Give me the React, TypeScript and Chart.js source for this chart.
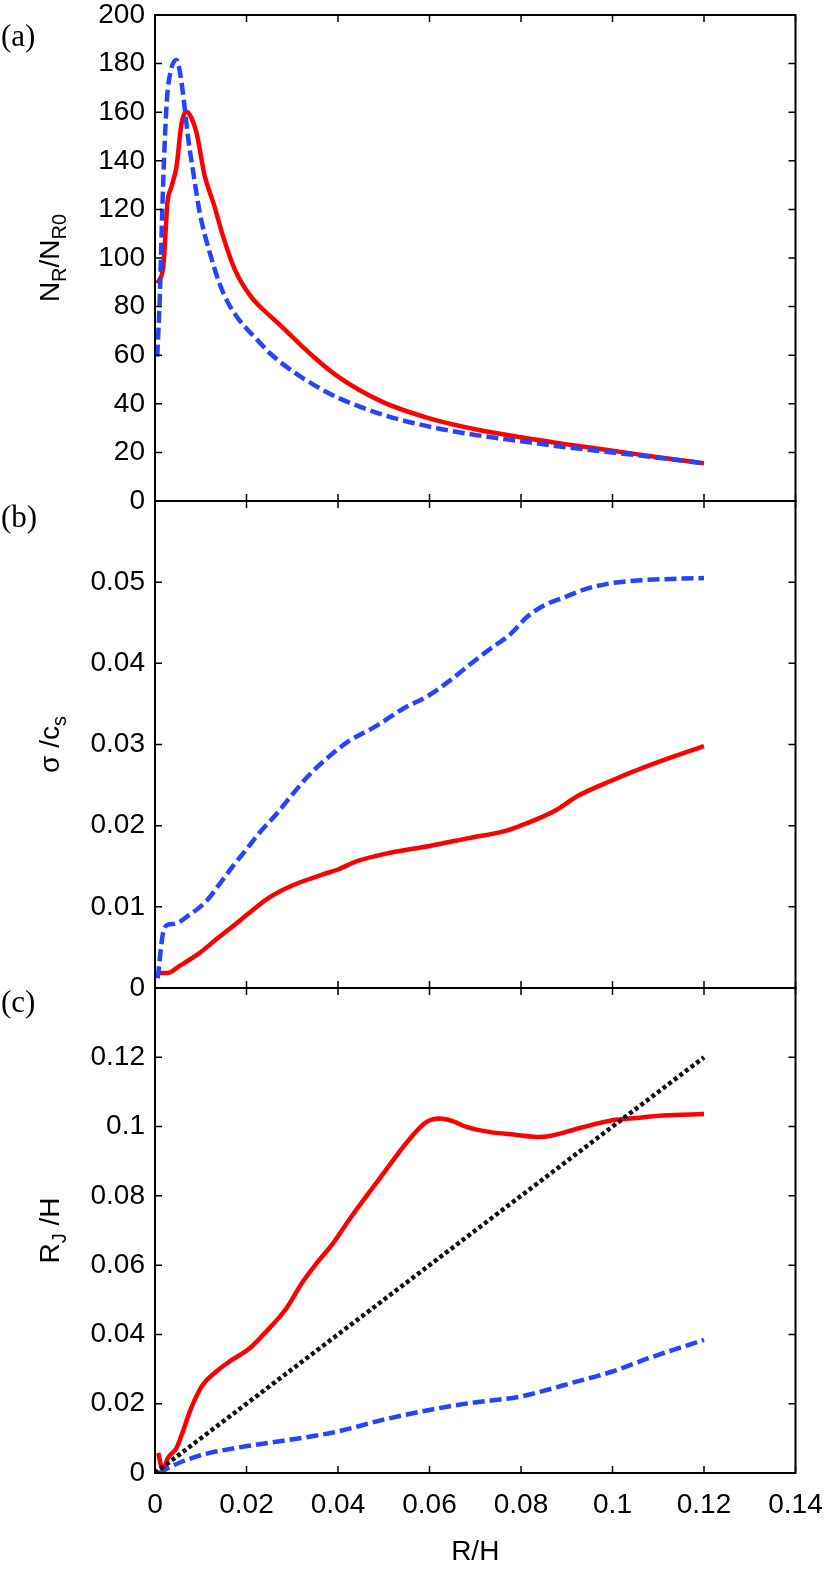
import { useEffect, useRef } from 'react'
import Chart from 'chart.js/auto'

const FIG_W = 829
const FIG_H = 1571
const PLOT_LEFT = 155
const PLOT_RIGHT = 795.5
const SANS = '"Liberation Sans", Arial, sans-serif'
const SERIF = '"Liberation Serif", "Times New Roman", serif'

const RED = '#ff0000'
const BLUE = '#2643ff'
const BLACK = '#111111'

// shared R/H axis
const xTickValues = [0, 0.02, 0.04, 0.06, 0.08, 0.1, 0.12, 0.14]

// (a) N_R / N_R0
const nrTicks = [0, 20, 40, 60, 80, 100, 120, 140, 160, 180, 200]
const nrSolidX = [0.0005, 0.0018, 0.0022, 0.0027, 0.0036, 0.0047, 0.0058, 0.0069, 0.008, 0.0091, 0.0109, 0.0128, 0.0149, 0.0175, 0.0208, 0.0235, 0.0267, 0.0317, 0.0345, 0.04, 0.0496, 0.06, 0.07, 0.08, 0.09, 0.1, 0.11, 0.12]
const nrSolidY = [89.6, 96.4, 107, 122.5, 129.3, 137.6, 155.4, 160.2, 157.5, 151.3, 133.5, 122.5, 108.8, 95, 84.5, 79, 73.5, 64.5, 59.6, 51.2, 40.9, 34, 29.5, 26.2, 23.3, 20.7, 18, 15.5]
const nrDashedX = [0.0005, 0.0011, 0.0015, 0.002, 0.0026, 0.0034, 0.0047, 0.0055, 0.0062, 0.0073, 0.0084, 0.0098, 0.012, 0.0142, 0.016, 0.018, 0.02, 0.0225, 0.025, 0.03, 0.035, 0.04, 0.05, 0.06, 0.07, 0.08, 0.09, 0.1, 0.11, 0.12]
const nrDashedY = [59.4, 86.8, 114, 141.7, 165, 176.7, 181.5, 176, 166.4, 148.6, 134.8, 118.4, 102, 89, 81.5, 75.5, 71, 66, 61, 53.5, 47.5, 42.5, 35.4, 30.6, 27.2, 24.6, 22.1, 20, 17.8, 15.5]

// (b) sigma / c_s
const sigmaTicks = [0, 0.01, 0.02, 0.03, 0.04, 0.05, 0.06]
const sigmaSolidX = [0.0006, 0.0028, 0.0053, 0.0097, 0.0134, 0.017, 0.0207, 0.0243, 0.028, 0.0316, 0.0367, 0.04, 0.044, 0.05, 0.06, 0.0689, 0.0762, 0.0799, 0.0835, 0.0879, 0.0922, 0.1, 0.1089, 0.12]
const sigmaSolidY = [0.00185, 0.00185, 0.0027, 0.0043, 0.006, 0.0076, 0.0093, 0.0109, 0.0121, 0.013, 0.014, 0.0146, 0.0156, 0.0165, 0.0175, 0.0185, 0.0193, 0.02, 0.0208, 0.022, 0.0236, 0.0256, 0.0276, 0.0298]
const sigmaDashedX = [0.0006, 0.0017, 0.0028, 0.0042, 0.0075, 0.0112, 0.0141, 0.017, 0.02, 0.0228, 0.0265, 0.0301, 0.0338, 0.0382, 0.0426, 0.0484, 0.0542, 0.06, 0.0645, 0.0689, 0.0733, 0.0777, 0.0813, 0.0849, 0.0893, 0.0944, 0.1, 0.1053, 0.1126, 0.12]
const sigmaDashedY = [0.0012, 0.0066, 0.0078, 0.0079, 0.009, 0.0107, 0.0128, 0.015, 0.0171, 0.0191, 0.0214, 0.0239, 0.0263, 0.0286, 0.0305, 0.0323, 0.0344, 0.0361, 0.0379, 0.0399, 0.0418, 0.0436, 0.0457, 0.0471, 0.0481, 0.0492, 0.0499, 0.0502, 0.0504, 0.0505]

// (c) R_J / H
const rjTicks = [0, 0.02, 0.04, 0.06, 0.08, 0.1, 0.12, 0.14]
const rjSolidX = [0.0007, 0.0017, 0.0028, 0.0047, 0.0061, 0.0079, 0.0104, 0.0134, 0.0163, 0.0207, 0.0243, 0.0287, 0.0323, 0.0353, 0.0389, 0.0426, 0.0491, 0.0557, 0.0593, 0.0623, 0.0652, 0.0681, 0.0733, 0.0784, 0.0835, 0.0864, 0.0929, 0.1, 0.1053, 0.1111, 0.12]
const rjSolidY = [0.0058, 0.0009, 0.0043, 0.0072, 0.012, 0.0187, 0.0254, 0.0293, 0.0322, 0.036, 0.0408, 0.0475, 0.0552, 0.0605, 0.0663, 0.0734, 0.085, 0.0965, 0.1013, 0.1023, 0.1015, 0.0999, 0.0984, 0.0977, 0.097, 0.0973, 0.0996, 0.1018, 0.1025, 0.1032, 0.1036]
const rjDashedX = [0.0008, 0.0035, 0.0061, 0.0119, 0.0155, 0.0198, 0.028, 0.0353, 0.04, 0.05, 0.06, 0.0689, 0.08, 0.0849, 0.0908, 0.1, 0.1089, 0.12]
const rjDashedY = [0, 0.0018, 0.0034, 0.0058, 0.0067, 0.0077, 0.0093, 0.0108, 0.012, 0.0154, 0.0182, 0.0202, 0.0221, 0.0237, 0.0259, 0.0293, 0.0336, 0.0384]
const rjDottedX = [0, 0.12]
const rjDottedY = [0, 0.12]

interface Segment { text: string; sub?: boolean }
interface Series { x: number[]; y: number[]; color: string; dash: number[] }
interface PanelDef {
  tag: string
  tagY: number
  top: number
  bottom: number
  yMax: number
  yStep: number
  yTicks: number[]
  hideTopLabel: boolean
  showX: boolean
  title: Segment[]
  series: Series[]
}

const panels: PanelDef[] = [
  {
    tag: '(a)', tagY: 38, top: 15, bottom: 501, yMax: 200, yStep: 20, yTicks: nrTicks,
    hideTopLabel: false, showX: false,
    title: [{ text: 'N' }, { text: 'R', sub: true }, { text: '/N' }, { text: 'R0', sub: true }],
    series: [
      { x: nrDashedX, y: nrDashedY, color: BLUE, dash: [12, 5] },
      { x: nrSolidX, y: nrSolidY, color: RED, dash: [] },
    ],
  },
  {
    tag: '(b)', tagY: 519, top: 501, bottom: 988, yMax: 0.06, yStep: 0.01, yTicks: sigmaTicks,
    hideTopLabel: true, showX: false,
    title: [{ text: 'σ /c' }, { text: 's', sub: true }],
    series: [
      { x: sigmaDashedX, y: sigmaDashedY, color: BLUE, dash: [12, 5] },
      { x: sigmaSolidX, y: sigmaSolidY, color: RED, dash: [] },
    ],
  },
  {
    tag: '(c)', tagY: 1004, top: 988, bottom: 1473, yMax: 0.14, yStep: 0.02, yTicks: rjTicks,
    hideTopLabel: true, showX: true,
    title: [{ text: 'R' }, { text: 'J', sub: true }, { text: ' /H' }],
    series: [
      { x: rjDottedX, y: rjDottedY, color: BLACK, dash: [4, 3] },
      { x: rjDashedX, y: rjDashedY, color: BLUE, dash: [12, 5] },
      { x: rjSolidX, y: rjSolidY, color: RED, dash: [] },
    ],
  },
]

const fmt = (v: number) => String(parseFloat(Number(v).toFixed(4)))

function drawRotated(ctx: CanvasRenderingContext2D, segs: Segment[], cx: number, cy: number, size: number) {
  const subSize = Math.round(size * 0.7)
  const widths = segs.map(s => {
    ctx.font = `${s.sub ? subSize : size}px ${SANS}`
    return ctx.measureText(s.text).width
  })
  const total = widths.reduce((a, b) => a + b, 0)
  ctx.save()
  ctx.translate(cx, cy)
  ctx.rotate(-Math.PI / 2)
  ctx.textAlign = 'left'
  ctx.textBaseline = 'alphabetic'
  ctx.fillStyle = '#000'
  let x = -total / 2
  segs.forEach((s, i) => {
    ctx.font = `${s.sub ? subSize : size}px ${SANS}`
    ctx.fillText(s.text, x, s.sub ? size * 0.25 : 0)
    x += widths[i]
  })
  ctx.restore()
}

// frame, inward ticks on all four sides, y title and panel tag
const framePlugin = {
  id: 'frame',
  afterDraw(chart: any, _args: any, opts: any) {
    const { ctx, chartArea } = chart
    const { left, right, top, bottom } = chartArea
    const xs = chart.scales.x
    const ys = chart.scales.y
    ctx.save()
    ctx.strokeStyle = '#000'
    ctx.lineWidth = 1.5
    ctx.beginPath()
    for (const v of xTickValues) {
      const px = xs.getPixelForValue(v)
      ctx.moveTo(px, bottom)
      ctx.lineTo(px, bottom - 7)
      ctx.moveTo(px, top)
      ctx.lineTo(px, top + 7)
    }
    for (const v of opts.yTicks as number[]) {
      const py = ys.getPixelForValue(v)
      ctx.moveTo(left, py)
      ctx.lineTo(left + 7, py)
      ctx.moveTo(right, py)
      ctx.lineTo(right - 7, py)
    }
    ctx.stroke()
    ctx.lineWidth = 2
    ctx.strokeRect(left, top, right - left, bottom - top)

    drawRotated(ctx, opts.title, 59, (top + bottom) / 2, 28)

    ctx.font = `31px ${SERIF}`
    ctx.fillStyle = '#000'
    ctx.textAlign = 'left'
    ctx.textBaseline = 'middle'
    ctx.fillText(opts.tag, 1, opts.tagY)
    ctx.restore()
  },
}

function Panel({ def }: { def: PanelDef }) {
  const canvasRef = useRef<HTMLCanvasElement>(null)
  const chartRef = useRef<Chart<'line'> | null>(null)

  useEffect(() => {
    if (!canvasRef.current) return
    if (chartRef.current) chartRef.current.destroy()

    const tickFont = { family: SANS, size: 28 }

    chartRef.current = new Chart(canvasRef.current, {
      type: 'line',
      data: {
        datasets: def.series.map(s => ({
          data: s.x.map((x, i) => ({ x, y: s.y[i] })),
          borderColor: s.color,
          borderWidth: 4.5,
          borderDash: s.dash,
          borderCapStyle: 'butt' as const,
          pointRadius: 0,
          fill: false,
          cubicInterpolationMode: 'monotone' as const,
        })),
      },
      options: {
        animation: false,
        responsive: false,
        layout: {
          padding: {
            left: 0,
            right: FIG_W - PLOT_RIGHT,
            top: def.top,
            bottom: def.showX ? 0 : FIG_H - def.bottom,
          },
        },
        plugins: {
          legend: { display: false },
          tooltip: { enabled: false },
          // @ts-ignore custom plugin options
          frame: { yTicks: def.yTicks, title: def.title, tag: def.tag, tagY: def.tagY },
        },
        scales: {
          x: {
            type: 'linear',
            min: 0,
            max: 0.14,
            display: def.showX,
            afterFit: (s: any) => {
              s.height = def.showX ? FIG_H - def.bottom : 0
              s.paddingLeft = 0
              s.paddingRight = 0
            },
            grid: { display: false, drawTicks: false },
            border: { display: false },
            ticks: {
              stepSize: 0.02,
              autoSkip: false,
              maxRotation: 0,
              padding: 15,
              color: '#000',
              font: tickFont,
              callback: (v: any) => fmt(v),
            },
            title: {
              display: true,
              text: 'R/H',
              color: '#000',
              font: tickFont,
              padding: { top: 0, bottom: 2 },
            },
          },
          y: {
            type: 'linear',
            min: 0,
            max: def.yMax,
            afterFit: (s: any) => {
              s.width = PLOT_LEFT
              s.paddingTop = 0
              s.paddingBottom = 0
            },
            grid: { display: false, drawTicks: false },
            border: { display: false },
            ticks: {
              stepSize: def.yStep,
              padding: 10,
              color: '#000',
              font: tickFont,
              callback: (v: any) =>
                def.hideTopLabel && Math.abs(Number(v) - def.yMax) < 1e-9 ? '' : fmt(v),
            },
          },
        },
      },
      plugins: [framePlugin],
    })

    return () => {
      if (chartRef.current) {
        chartRef.current.destroy()
        chartRef.current = null
      }
    }
  }, [def])

  return (
    <canvas
      ref={canvasRef}
      width={FIG_W}
      height={FIG_H}
      style={{ position: 'absolute', left: 0, top: 0, width: FIG_W, height: FIG_H }}
    />
  )
}

export default function App() {
  return (
    <div style={{ position: 'absolute', left: 0, top: 0, width: FIG_W, height: FIG_H, background: '#fff' }}>
      {panels.map(p => <Panel key={p.tag} def={p} />)}
    </div>
  )
}
